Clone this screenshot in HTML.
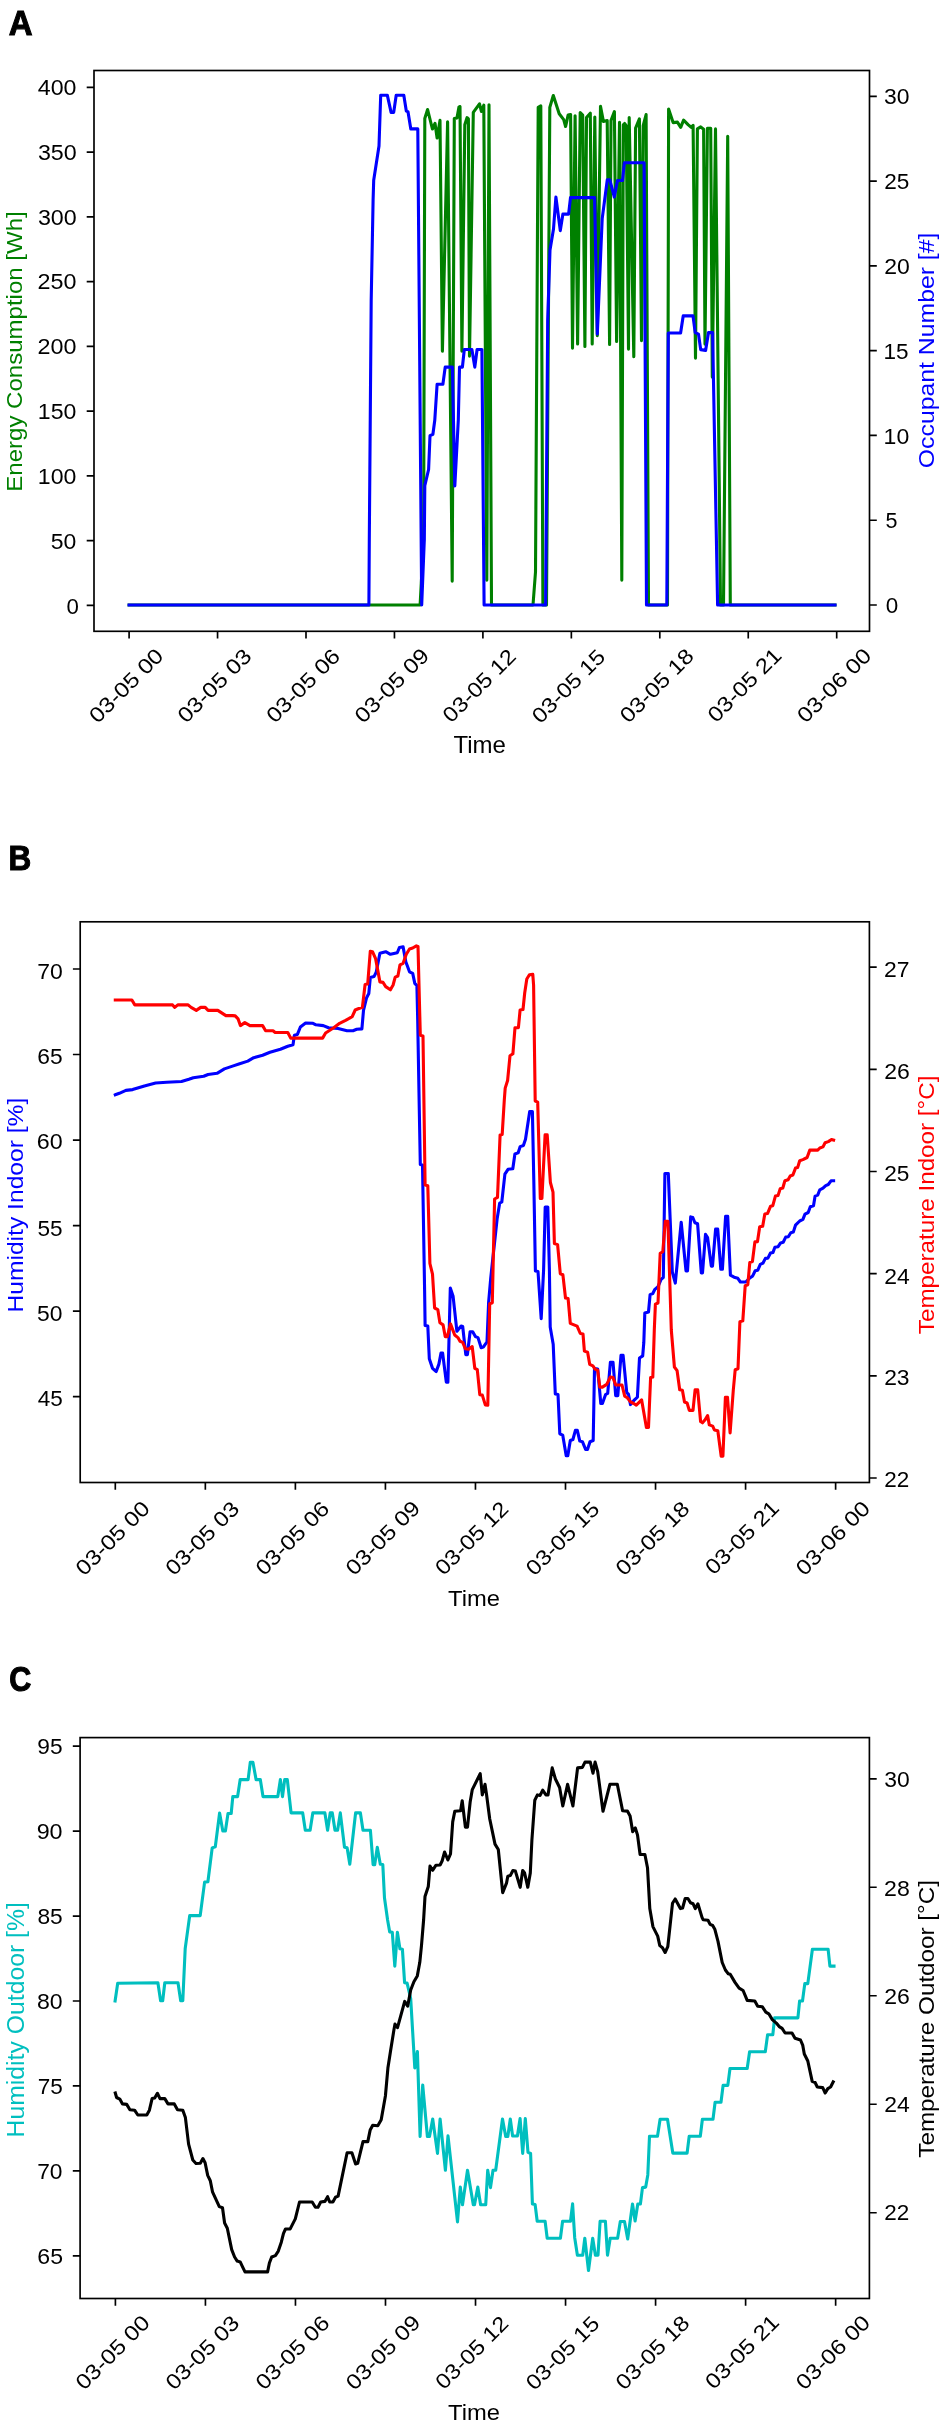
<!DOCTYPE html><html><head><meta charset="utf-8"><title>Energy, occupancy and climate time series</title><style>html,body{margin:0;padding:0;background:#fff;}svg{display:block;will-change:transform}</style></head><body>
<svg width="945" height="2427" viewBox="0 0 945 2427" font-family='"Liberation Sans", sans-serif'>
<rect width="945" height="2427" fill="#fff"/>
<clipPath id="clipA"><rect x="94" y="70.5" width="775.5" height="560.8"/></clipPath>
<path d="M129.1 605 L420.1 605 L423.6 540 L424.8 118.5 L427.6 109.5 L432.4 129 L435 123.3 L437.1 138 L440 120.4 L442.4 351.1 L447.6 121.9 L452.2 581.1 L454.3 118.5 L457 117.9 L459 106.9 L460 106.6 L461.9 351.1 L464.8 124.7 L467.1 117.6 L468.4 118.9 L469.5 356.1 L473.3 112.3 L479.5 103.8 L481.4 111.4 L483.8 105.2 L486.8 580.1 L489 104.7 L491.5 605 L533 605 L535.5 572 L538.2 107.4 L540.8 105.9 L542.9 605 L546.5 605 L549.8 107.4 L553.3 95.5 L559.2 113.8 L563.7 119.6 L565.6 126.5 L568.1 115.1 L570.6 114.5 L572.5 348.1 L575.1 115.7 L577.6 343.9 L580.2 112.6 L582.7 115.1 L584.9 346.4 L586.5 117.6 L590.3 113.2 L592.2 343.9 L594.8 117 L597.3 335.6 L600.5 106.2 L603.4 121.4 L607.2 120.5 L609.6 344.4 L611 120.5 L614.4 111.6 L616.6 341.5 L619.5 122.2 L621.8 580.1 L623.3 124.8 L624.6 123.5 L626.2 125.6 L628.5 349.1 L629.2 117.6 L633.8 356.6 L635.6 128.2 L639.4 118.9 L641.5 340.6 L643.2 125.6 L646.1 114.6 L648.5 605 L667.5 605 L668.6 109.1 L673.1 122.6 L677.4 122.1 L680.7 127.3 L683.6 120.2 L688.3 124.9 L691.2 127.3 L693.1 125.4 L695.5 358.1 L697.4 128.8 L700.7 126.9 L703.6 129.2 L705 344.1 L707.4 128.3 L710.7 128.3 L712.3 377.1 L715.5 128.9 L720.5 605 L723.5 605 L727.7 136.3 L730.3 605 L835 605" fill="none" stroke="#008000" stroke-width="3.1" stroke-linejoin="round" stroke-linecap="square" clip-path="url(#clipA)"/>
<path d="M129.1 605 L368.9 605 L369.3 540 L371.2 300 L373.1 200 L373.7 180.3 L379 146 L380.7 95.2 L387.3 95.2 L391.1 112.4 L393.7 112.4 L396.2 95.2 L403.8 95.2 L406.3 111.1 L408 111.7 L410.8 128.9 L417.8 128.9 L421.7 605 L424.3 540 L424.8 485.7 L428.6 469.5 L430 435.7 L432.9 434.3 L434.8 420 L437.1 384.3 L442.9 384.3 L445.2 367.1 L452.4 367.1 L454.8 486 L458.3 420 L459.5 367.1 L462.4 367.1 L464.3 349.5 L471.9 349.5 L474.8 367.1 L477.1 349.5 L481.9 349.5 L484.1 605 L545.6 605 L547.7 320 L550 250 L553.5 229 L555.9 197 L560.3 230.6 L562.9 214.1 L568.6 214.1 L570.5 197.6 L594.6 197.6 L597.3 334 L602.2 218.6 L607.3 179.8 L609.8 179.8 L614.3 197 L617.5 180.5 L622.5 180.5 L624.4 162.7 L644.1 162.7 L646.5 605 L666.8 605 L668.3 333 L680.6 333 L683.2 315.9 L693 315.9 L695.2 332.6 L698.5 334.1 L700.7 349.6 L705.6 350.4 L708.5 332.6 L712.6 332.6 L717.6 605 L835 605" fill="none" stroke="#0000ff" stroke-width="3.1" stroke-linejoin="round" stroke-linecap="square" clip-path="url(#clipA)"/>
<rect x="94" y="70.5" width="775.5" height="560.8" fill="none" stroke="#000" stroke-width="1.67" stroke-linejoin="miter"/>
<path d="M129.1 631.3V638.6M217.55 631.3V638.6M306 631.3V638.6M394.45 631.3V638.6M482.9 631.3V638.6M571.35 631.3V638.6M659.8 631.3V638.6M748.25 631.3V638.6M836.7 631.3V638.6M86.7 605.4H94M86.7 540.64H94M86.7 475.88H94M86.7 411.11H94M86.7 346.35H94M86.7 281.59H94M86.7 216.82H94M86.7 152.06H94M86.7 87.3H94M869.5 605H876.8M869.5 520.22H876.8M869.5 435.43H876.8M869.5 350.64H876.8M869.5 265.86H876.8M869.5 181.07H876.8M869.5 96.29H876.8" stroke="#000" stroke-width="1.67" fill="none"/>
<clipPath id="clipB"><rect x="80.2" y="921.8" width="789.2" height="560.7"/></clipPath>
<path d="M115.3 1094.8 L119.3 1093.3 L125.9 1090.4 L132.6 1089.6 L144.4 1085.9 L155.6 1083 L166.7 1082.2 L181.5 1081.5 L188.9 1079.3 L193.3 1077.8 L203.7 1076.3 L208.1 1074.5 L217 1073.3 L224.4 1068.9 L233.3 1065.9 L238.9 1064.1 L247.8 1061.1 L253.7 1057.7 L262.6 1055.2 L270 1052.2 L280.4 1049.3 L287.8 1046.3 L293 1044.8 L294.4 1035.2 L297.4 1034.4 L300.4 1027 L305.6 1023 L313 1023.3 L315.9 1024.8 L323.3 1025.6 L328.5 1027.8 L338.1 1028.5 L347 1030.7 L353 1030.7 L356.7 1029.3 L361.9 1028.9 L363.5 1010.4 L366.6 997.7 L368.8 993.5 L370.3 977.6 L374 976.6 L376.2 972.3 L379.9 953.3 L385.7 951.7 L390.4 954.3 L397.3 952.8 L399.4 947.5 L403.1 946.9 L405.8 961.7 L409.5 971.8 L412.7 973.4 L414.8 983.4 L416.9 985.6 L417.7 1020 L419.3 1110 L420.3 1164.5 L422.5 1165 L424.6 1290 L425.1 1325.4 L427.8 1326 L429.3 1358.8 L432.5 1368.3 L436.2 1371.5 L438.9 1364.1 L441 1353 L442.6 1353 L446.3 1382.1 L447.9 1382.1 L450.3 1288 L453.1 1296.3 L456.9 1331.3 L461.1 1326 L462.7 1326.5 L465.8 1354.6 L467.4 1354.6 L470.1 1331.8 L472.7 1331.8 L475.4 1336.6 L478 1337.6 L481.2 1347.7 L483.3 1347.1 L487 1341.9 L488.6 1302.7 L490.7 1278.3 L497.1 1219 L499.7 1203.1 L501.8 1202 L504.9 1174.1 L508 1169.3 L512.8 1168.8 L514.9 1154 L518.1 1152.9 L520.2 1146.6 L523.4 1145.5 L525.5 1139.2 L529.7 1111.6 L532.4 1111.6 L533.8 1180 L535.4 1271 L538 1271.5 L541.2 1318.7 L543.6 1270 L545.2 1207 L547.8 1207 L549.4 1270 L550.2 1327.1 L552.8 1342 L553.2 1344.2 L555.3 1394 L558 1394.5 L559.8 1433.8 L562.7 1435.1 L566.2 1455.7 L567.8 1455.7 L570.3 1440.5 L572.9 1439.5 L575.4 1430.3 L577.3 1430.3 L579.8 1441.1 L582.4 1441.7 L585.6 1449.4 L587.5 1449.4 L590 1441.7 L593.2 1440.5 L594.5 1368.6 L597.7 1369.1 L600.8 1403.5 L602.4 1403.5 L605.6 1394.5 L607.7 1393.4 L610.4 1362.2 L613 1362.2 L615.7 1395.6 L617.8 1395.6 L621 1355.3 L623.1 1355.3 L626.8 1392.9 L628.4 1394 L630.5 1404.6 L634.5 1399.8 L637.4 1397.2 L639.5 1358 L642.7 1355.9 L643.8 1342.7 L644.8 1313.1 L648.5 1312 L650.1 1294.6 L652.8 1293.5 L654.9 1289.3 L658 1286.6 L661.2 1279.2 L663.3 1277.6 L664.9 1173.5 L668.3 1173.5 L672.3 1272 L675.3 1283.1 L681.2 1222.2 L686 1270.9 L687.5 1270.9 L690.7 1216.9 L692.8 1217.5 L694.9 1222.8 L697.6 1223.8 L701.3 1273 L702.5 1273 L705.5 1234.4 L707.6 1237.6 L711.3 1266.1 L712.5 1266.1 L715.6 1229.1 L717.7 1229.1 L720.8 1269.3 L722.4 1269.3 L725.6 1216.4 L727.7 1216.4 L730.4 1275.1 L734.1 1277.2 L737.8 1278.3 L740.4 1282 L745.7 1282 L749.4 1278.3 L752.7 1275.9 L755.2 1270.8 L757.8 1270.2 L760.3 1264.4 L762.9 1263.2 L765.4 1258.4 L767.9 1258.1 L770.5 1253 L773 1252.4 L774.9 1247.3 L778.1 1246.7 L780.6 1242.9 L783.2 1242.2 L785.7 1237.1 L788.3 1236.8 L790.8 1232.7 L793.3 1232.1 L795.5 1225.2 L799.7 1221 L802.9 1219.4 L805 1214.1 L808.2 1212.5 L810.3 1206.7 L813.5 1205.7 L815.1 1196.1 L817.7 1195.1 L819.8 1189.8 L823 1188.2 L825.7 1185.6 L828.3 1184.5 L831 1180.8 L833.6 1180.8" fill="none" stroke="#0000ff" stroke-width="3.1" stroke-linejoin="round" stroke-linecap="square" clip-path="url(#clipB)"/>
<path d="M115.3 1000 L131.9 1000 L134.8 1004.9 L172.6 1004.9 L174.8 1007.4 L177.8 1004.9 L188.1 1004.9 L191.1 1007.4 L196.3 1010.4 L200.7 1007.4 L205.2 1007.4 L208.1 1010.4 L217.8 1010.4 L225.9 1015.6 L232.6 1015.6 L235.2 1015.9 L238.1 1018.9 L240.4 1025.6 L244.8 1022.6 L250 1025.6 L262.6 1025.6 L265.6 1030.7 L273 1030.7 L275.2 1032.5 L287.8 1032.5 L290.7 1038.1 L322.6 1038.1 L325.6 1033 L333.7 1027.8 L339.6 1023.3 L345.6 1020.4 L352.2 1016.7 L355.2 1010 L358.2 1008.8 L362.4 1007.2 L365.1 984.5 L367.7 984 L370.3 951.2 L372.5 951.7 L375.6 958.6 L379.9 981.9 L383 982.4 L385.7 986.6 L390.4 989.8 L393.1 985 L395.2 977.1 L397.9 976 L400 964.9 L403.1 963.3 L406.3 954.3 L409.5 949 L412.7 948 L416.4 945.9 L418 946.4 L420.3 1035.3 L423 1035.9 L425.1 1185.1 L427.8 1185.7 L429.9 1263.5 L432.5 1274.1 L434.6 1308 L437.8 1309.6 L439.9 1322.8 L443.1 1324.9 L445.2 1336.6 L447.3 1336.6 L450.5 1323.9 L454.7 1335 L457.9 1337.6 L460 1341.3 L462.7 1342.4 L465.3 1348.7 L468.5 1349.3 L472.2 1346.6 L474.8 1368.3 L477.3 1369.7 L479.8 1394.7 L482.3 1395.1 L485.3 1404.9 L487.8 1405.3 L489.7 1303.8 L492.3 1302.7 L494.6 1199 L497.5 1197.4 L500.1 1134.9 L502.2 1134.4 L504.3 1100 L505.2 1088.1 L507.6 1080.5 L510 1055.7 L512.9 1053.8 L515 1027.7 L518.4 1027.7 L520.1 1010 L523 1009.5 L524.7 993 L526.8 979 L529.4 974.8 L532.8 974.4 L533.6 985.4 L535.2 1101 L537.7 1102.1 L540.3 1198.4 L541.9 1198.4 L545.1 1134.9 L547.2 1134.9 L550.4 1182.5 L553 1192.1 L554.4 1243.5 L557.6 1244.6 L560.3 1273.7 L562.9 1274.8 L565.5 1298 L568.1 1298.6 L570.3 1323.4 L577.1 1326.1 L580.3 1333.5 L583 1334 L584.4 1351.1 L587.6 1352.2 L589.7 1364.3 L592.9 1365.9 L595 1369.1 L597.7 1370.2 L599.8 1387.1 L602.4 1387.1 L606.7 1384.4 L610.4 1377 L613 1377.6 L615.7 1385 L622 1385 L624.7 1396.1 L627.3 1397.7 L630.5 1401.9 L633.7 1403.5 L636.3 1405.1 L641.6 1399.8 L646.4 1427.4 L648.5 1427.4 L650.6 1377.6 L652.8 1377.1 L654.3 1330 L655.4 1304.1 L658 1303 L660.2 1253.3 L662.8 1251.7 L665.3 1221.2 L667.9 1221.2 L671.3 1330 L674.4 1367 L677.1 1370.7 L679.7 1389.8 L682.4 1390.3 L684.5 1402 L687.1 1403 L689.3 1410.4 L693 1410.4 L695.1 1389.8 L697.7 1389.8 L700.6 1421.5 L702.5 1422.8 L705.1 1419.8 L707.6 1415.6 L709.3 1424.9 L712.7 1426.1 L714.4 1430 L717.8 1430.8 L721.2 1456.2 L722.9 1456.2 L725.4 1397.4 L727.5 1397.4 L730.1 1432.9 L733.3 1390 L735.2 1369.7 L738 1368.7 L739.9 1321.7 L742.8 1320.8 L745.2 1285.7 L747.8 1284.7 L749.8 1262.5 L752.4 1261.6 L754.9 1241.9 L757.5 1241.6 L759.7 1226.7 L762.7 1226.3 L764.8 1214.1 L767.5 1213.6 L770.6 1206.2 L772.8 1205.7 L775.4 1196.1 L778 1195.6 L780.2 1188.7 L782.8 1188 L784.9 1180.8 L788.1 1179.7 L790.2 1176 L792.9 1175 L795.5 1168.1 L797.6 1167.6 L799.7 1160.7 L802.9 1159.6 L807.1 1157.5 L809.8 1150.1 L817.7 1150.1 L819.8 1148 L823 1146.9 L825.1 1142.7 L828.3 1141.6 L831.5 1139.5 L833.6 1140.1" fill="none" stroke="#ff0000" stroke-width="3.1" stroke-linejoin="round" stroke-linecap="square" clip-path="url(#clipB)"/>
<rect x="80.2" y="921.8" width="789.2" height="560.7" fill="none" stroke="#000" stroke-width="1.67" stroke-linejoin="miter"/>
<path d="M115.3 1482.5V1489.8M205.34 1482.5V1489.8M295.38 1482.5V1489.8M385.42 1482.5V1489.8M475.46 1482.5V1489.8M565.5 1482.5V1489.8M655.54 1482.5V1489.8M745.58 1482.5V1489.8M835.62 1482.5V1489.8M72.9 1396.6H80.2M72.9 1311.08H80.2M72.9 1225.56H80.2M72.9 1140.04H80.2M72.9 1054.52H80.2M72.9 969H80.2M869.4 1478H876.7M869.4 1375.84H876.7M869.4 1273.68H876.7M869.4 1171.52H876.7M869.4 1069.36H876.7M869.4 967.2H876.7" stroke="#000" stroke-width="1.67" fill="none"/>
<clipPath id="clipC"><rect x="80.1" y="1737.6" width="789.3" height="560.9"/></clipPath>
<path d="M115.1 2001 L117.7 1983.2 L157.9 1982.8 L160.6 2000.7 L162.7 2000.7 L164.8 1982.8 L178 1982.8 L180.7 2000.7 L182.8 2000.7 L185.2 1948.5 L189.7 1915.6 L200.2 1915.6 L204.6 1882.1 L207.9 1881.7 L212.2 1847.9 L215.3 1846.8 L219.6 1813 L222.8 1831 L225.4 1831 L228 1813.5 L231.2 1813.5 L232.8 1796.6 L237.6 1796.6 L240.2 1779.6 L248.1 1779.6 L250.3 1762.2 L252.9 1762.2 L256.1 1779.6 L260.3 1779.6 L263 1796.6 L277.8 1796.6 L280.4 1779.6 L282.5 1796.6 L284.7 1779.6 L287.3 1779.6 L291.1 1812.9 L302.7 1812.9 L305.3 1830.3 L310.1 1830.3 L312.8 1812.9 L324.9 1812.9 L327.6 1830.3 L330.2 1812.9 L332.3 1812.9 L335 1830.3 L337.6 1830.3 L340.3 1812.9 L344.5 1847.2 L347.1 1847.8 L349.8 1864.2 L355.6 1812.9 L360.4 1812.9 L363 1830.3 L370.4 1830.3 L373.1 1864.7 L374.7 1864.7 L377.3 1847.2 L380.3 1864.3 L382.8 1864.5 L384.5 1898 L387.6 1920 L389.7 1931.9 L392.3 1932.3 L394.8 1966.1 L397.4 1932.3 L399.9 1948.8 L402.4 1949.2 L404.6 1982.7 L407.1 1983.1 L410.7 1998.5 L414.8 2068 L417.4 2051.6 L420.1 2136.5 L422.7 2085 L427.4 2136.5 L429.5 2136.5 L432.7 2119 L437.5 2153.4 L440.1 2119 L445.4 2170.3 L448 2135.9 L457.5 2221.9 L460.3 2187 L462.5 2204.8 L467.5 2170.3 L473.3 2204.8 L474.5 2204.8 L477.8 2187 L480.6 2204.8 L485.7 2204.8 L487.7 2170.3 L490.5 2187.6 L493 2170.3 L495.7 2170.3 L502.5 2119 L505.7 2136.5 L507.8 2136.5 L510.3 2119 L512.6 2136 L517.4 2136 L520.1 2118.6 L522.7 2153.5 L525.3 2118.6 L528 2152.4 L530.6 2153.5 L532.4 2203.9 L535.1 2204.4 L537.2 2221.3 L545.1 2221.3 L547.2 2238.3 L560.4 2238.3 L562.6 2221.3 L570.5 2221.3 L572.6 2203.9 L574.7 2237.7 L577.4 2255.2 L582.7 2255.2 L584.8 2238.3 L588.5 2270.5 L592.7 2238.3 L595.4 2255.2 L598 2255.2 L600.1 2221.3 L605.4 2221.3 L607.5 2255.2 L610.2 2238.3 L617.6 2238.3 L620.3 2221.5 L624.5 2221.5 L627.7 2239 L632.5 2204 L635.1 2221 L637.8 2204 L640.4 2204 L642.5 2187.6 L645.7 2187.1 L647.8 2174.9 L649.5 2136.2 L657.5 2136.2 L660.1 2119.3 L667.5 2119.3 L672.8 2153.1 L687.1 2153.1 L689.2 2136.2 L700.3 2136.2 L702.4 2119.3 L713 2119.3 L715.1 2102.3 L721 2102.3 L723.1 2085.4 L727.8 2085.4 L730 2068.5 L747.2 2068.5 L749.6 2051.7 L765.3 2051.7 L767.6 2034.8 L772.8 2034.8 L774.6 2017.9 L797.9 2017.9 L799.6 2001 L802.5 2001 L804.8 1983.6 L807.8 1983.6 L812.4 1949.2 L828.1 1949.2 L829.9 1966.1 L834 1966.1" fill="none" stroke="#00bfbf" stroke-width="3.1" stroke-linejoin="round" stroke-linecap="square" clip-path="url(#clipC)"/>
<path d="M115.3 2093 L116.6 2097.5 L119.8 2099.1 L122.5 2103.9 L126.7 2104.4 L129.9 2109.7 L134.6 2110.2 L137.8 2115 L146.8 2115 L149.4 2110.2 L152.1 2098.6 L154.7 2098 L157.4 2093.3 L160 2098.6 L164.8 2098.6 L168 2103.9 L174.3 2103.9 L177.5 2109.7 L182.8 2110.2 L185.4 2117.6 L188.6 2144.1 L192.8 2160 L196 2163.5 L200.3 2163.2 L202.9 2158.5 L205.1 2162.7 L207.7 2175.4 L210.3 2180.7 L212.5 2191.8 L219.3 2206.6 L222.5 2207.7 L224.6 2223 L227.3 2228.3 L231.7 2249.6 L234.6 2257 L237.2 2261.1 L240.2 2261.9 L242.8 2267.4 L245 2271.9 L267.6 2271.9 L269.4 2263 L271.7 2257 L275.4 2255.6 L278.3 2251.1 L281.3 2242.2 L283.5 2233.3 L285.5 2229 L290.2 2228.9 L295.3 2218.9 L299.5 2202 L312.2 2202 L315.4 2207.2 L318 2207.2 L320.7 2202 L324.9 2201.4 L327.6 2196.7 L329.7 2202 L332.9 2202 L335.5 2197.2 L338.1 2196.1 L347.1 2152.8 L351.9 2152.8 L355.6 2163.9 L357.7 2163.3 L363 2141.6 L367.8 2141.6 L370.2 2129.9 L372.7 2125.3 L377.8 2125.7 L381.2 2119.8 L385.4 2096 L387.9 2068.1 L390.5 2051.2 L393.9 2030 L395 2024 L397.5 2027.7 L404.7 2001.4 L407.7 2006.1 L410.7 1990 L413.9 1981.8 L417.3 1975.9 L419.8 1962.3 L421.5 1945.4 L423.6 1920 L425 1896.6 L428.3 1886.4 L430 1866.1 L432.6 1870.3 L436 1865.2 L440.1 1865 L442.1 1861 L444.6 1852 L447.9 1860 L450.5 1854 L452.7 1821.9 L454.8 1811.3 L460.6 1810.7 L462.2 1800.7 L465.4 1827.1 L467.5 1827.1 L470.2 1801.7 L472.3 1789.6 L480.2 1773.7 L482.3 1794.9 L485 1784.3 L486.6 1794.9 L489.7 1818.7 L495 1844.1 L498.3 1849.5 L502.7 1892.7 L506.5 1883.2 L507.8 1876.2 L510.3 1875.6 L512.9 1870.5 L515.4 1871.1 L520.2 1887.3 L522.7 1870.5 L524.6 1873 L527.8 1887.3 L530.3 1873 L531.9 1840 L534.8 1800.2 L537.4 1794.9 L540.1 1795.4 L542.7 1790.2 L545.9 1794.9 L548 1794.9 L552.2 1767.9 L555.4 1779 L559.6 1787.5 L562.8 1806 L567.6 1784.3 L572.9 1806 L577.6 1767.9 L582.4 1767.4 L585 1762.1 L590.3 1762.1 L593 1773.2 L595.1 1762.1 L597.7 1771.6 L603 1811.3 L609.9 1784.3 L617.3 1784.3 L622.6 1810.7 L627.4 1811.1 L630.1 1815.9 L632.7 1831.7 L635.3 1828 L637.5 1834.9 L640.1 1854.5 L644.9 1854.5 L647.5 1867.7 L648.2 1880 L649.8 1908.6 L652.9 1926.6 L657.7 1936.1 L659.8 1945.6 L662.5 1947.7 L665.1 1952.5 L667.8 1946.7 L672.5 1903.3 L675.2 1899 L680.4 1908.6 L682.6 1908 L685.2 1898.5 L687.9 1898.5 L690.5 1902.8 L693.1 1903.8 L695.3 1908.6 L697.9 1903.8 L702.1 1917.6 L703.2 1919.7 L708 1920.2 L710.1 1924.4 L712.7 1925.5 L714.8 1929.2 L718 1941.4 L722.2 1962.5 L725.4 1970 L728.1 1973.7 L730.2 1974.2 L735 1982.4 L739.1 1988.2 L743.1 1990.5 L747.2 2000.4 L754.8 2001 L757.7 2006.3 L762.4 2006.8 L765.8 2012.1 L768.8 2013.8 L772.3 2019.6 L776.3 2023.1 L779.2 2026.6 L782.1 2028.4 L785.1 2033 L792 2033 L795 2038.3 L800.5 2040 L802.7 2045.1 L804.3 2054 L807.8 2061 L812.2 2081.3 L815.1 2082.5 L817.3 2087 L822.7 2087.6 L825.2 2093 L827.8 2088.6 L830.6 2087 L833.2 2081.9" fill="none" stroke="#000000" stroke-width="3.1" stroke-linejoin="round" stroke-linecap="square" clip-path="url(#clipC)"/>
<rect x="80.1" y="1737.6" width="789.3" height="560.9" fill="none" stroke="#000" stroke-width="1.67" stroke-linejoin="miter"/>
<path d="M115.4 2298.5V2305.8M205.43 2298.5V2305.8M295.46 2298.5V2305.8M385.49 2298.5V2305.8M475.52 2298.5V2305.8M565.55 2298.5V2305.8M655.58 2298.5V2305.8M745.61 2298.5V2305.8M835.64 2298.5V2305.8M72.8 2255.81H80.1M72.8 2170.88H80.1M72.8 2085.94H80.1M72.8 2001.01H80.1M72.8 1916.07H80.1M72.8 1831.13H80.1M72.8 1746.2H80.1M869.4 2212.72H876.7M869.4 2104.24H876.7M869.4 1995.76H876.7M869.4 1887.28H876.7M869.4 1778.8H876.7" stroke="#000" stroke-width="1.67" fill="none"/>
<text transform="translate(8.65 35.33) rotate(0)" font-size="35.58" font-weight="bold" stroke="#000" stroke-width="1.1" stroke-linejoin="miter" fill="#000" textLength="23.80" lengthAdjust="spacingAndGlyphs">A</text>
<text transform="translate(8.55 870.33) rotate(0)" font-size="35.58" font-weight="bold" stroke="#000" stroke-width="1.1" stroke-linejoin="miter" fill="#000" textLength="22.74" lengthAdjust="spacingAndGlyphs">B</text>
<text transform="translate(9.33 1690.63) rotate(0)" font-size="35.34" font-weight="bold" stroke="#000" stroke-width="1.1" stroke-linejoin="miter" fill="#000" textLength="22.06" lengthAdjust="spacingAndGlyphs">C</text>
<text transform="translate(66.61 613.61) rotate(0)" font-size="21.66" fill="#000" textLength="12.37" lengthAdjust="spacingAndGlyphs">0</text>
<text transform="translate(50.81 548.50) rotate(0)" font-size="21.66" fill="#000" textLength="25.56" lengthAdjust="spacingAndGlyphs">50</text>
<text transform="translate(37.79 483.82) rotate(0)" font-size="21.66" fill="#000" textLength="38.54" lengthAdjust="spacingAndGlyphs">100</text>
<text transform="translate(37.79 419.00) rotate(0)" font-size="21.66" fill="#000" textLength="38.54" lengthAdjust="spacingAndGlyphs">150</text>
<text transform="translate(37.48 354.36) rotate(0)" font-size="21.66" fill="#000" textLength="38.92" lengthAdjust="spacingAndGlyphs">200</text>
<text transform="translate(37.48 289.46) rotate(0)" font-size="21.66" fill="#000" textLength="38.92" lengthAdjust="spacingAndGlyphs">250</text>
<text transform="translate(37.89 225.30) rotate(0)" font-size="21.66" fill="#000" textLength="38.82" lengthAdjust="spacingAndGlyphs">300</text>
<text transform="translate(37.89 160.37) rotate(0)" font-size="21.66" fill="#000" textLength="38.82" lengthAdjust="spacingAndGlyphs">350</text>
<text transform="translate(37.74 95.13) rotate(0)" font-size="21.66" fill="#000" textLength="38.69" lengthAdjust="spacingAndGlyphs">400</text>
<text transform="translate(885.77 613.37) rotate(0)" font-size="21.66" fill="#000" textLength="12.48" lengthAdjust="spacingAndGlyphs">0</text>
<text transform="translate(885.54 528.14) rotate(0)" font-size="21.66" fill="#000" textLength="11.98" lengthAdjust="spacingAndGlyphs">5</text>
<text transform="translate(883.61 443.68) rotate(0)" font-size="21.66" fill="#000" textLength="25.62" lengthAdjust="spacingAndGlyphs">10</text>
<text transform="translate(883.59 358.64) rotate(0)" font-size="21.66" fill="#000" textLength="25.06" lengthAdjust="spacingAndGlyphs">15</text>
<text transform="translate(884.17 273.85) rotate(0)" font-size="21.66" fill="#000" textLength="25.57" lengthAdjust="spacingAndGlyphs">20</text>
<text transform="translate(884.16 189.49) rotate(0)" font-size="21.66" fill="#000" textLength="25.12" lengthAdjust="spacingAndGlyphs">25</text>
<text transform="translate(884.12 104.09) rotate(0)" font-size="21.66" fill="#000" textLength="25.50" lengthAdjust="spacingAndGlyphs">30</text>
<text transform="translate(97.80 724.24) rotate(-45)" font-size="21.20" fill="#000" textLength="94.78" lengthAdjust="spacingAndGlyphs">03-05 00</text>
<text transform="translate(186.20 724.11) rotate(-45)" font-size="21.20" fill="#000" textLength="94.18" lengthAdjust="spacingAndGlyphs">03-05 03</text>
<text transform="translate(274.90 724.09) rotate(-45)" font-size="21.20" fill="#000" textLength="94.12" lengthAdjust="spacingAndGlyphs">03-05 06</text>
<text transform="translate(363.27 724.16) rotate(-45)" font-size="21.20" fill="#000" textLength="95.10" lengthAdjust="spacingAndGlyphs">03-05 09</text>
<text transform="translate(451.37 723.64) rotate(-45)" font-size="21.20" fill="#000" textLength="93.20" lengthAdjust="spacingAndGlyphs">03-05 12</text>
<text transform="translate(540.40 724.38) rotate(-45)" font-size="21.20" fill="#000" textLength="93.75" lengthAdjust="spacingAndGlyphs">03-05 15</text>
<text transform="translate(628.58 724.04) rotate(-45)" font-size="21.20" fill="#000" textLength="94.15" lengthAdjust="spacingAndGlyphs">03-05 18</text>
<text transform="translate(716.23 723.40) rotate(-45)" font-size="21.20" fill="#000" textLength="94.27" lengthAdjust="spacingAndGlyphs">03-05 21</text>
<text transform="translate(805.69 724.09) rotate(-45)" font-size="21.20" fill="#000" textLength="94.79" lengthAdjust="spacingAndGlyphs">03-06 00</text>
<text transform="translate(453.39 752.83) rotate(0)" font-size="23.02" fill="#000" textLength="52.48" lengthAdjust="spacingAndGlyphs">Time</text>
<text transform="translate(22.41 491.74) rotate(-90)" font-size="21.99" fill="#008000" textLength="280.48" lengthAdjust="spacingAndGlyphs">Energy Consumption [Wh]</text>
<text transform="translate(933.95 468.18) rotate(-90)" font-size="21.45" fill="#0000ff" textLength="235.61" lengthAdjust="spacingAndGlyphs">Occupant Number [#]</text>
<text transform="translate(37.72 1406.10) rotate(0)" font-size="21.66" fill="#000" textLength="25.06" lengthAdjust="spacingAndGlyphs">45</text>
<text transform="translate(37.08 1320.97) rotate(0)" font-size="21.66" fill="#000" textLength="25.44" lengthAdjust="spacingAndGlyphs">50</text>
<text transform="translate(37.55 1235.51) rotate(0)" font-size="21.66" fill="#000" textLength="25.15" lengthAdjust="spacingAndGlyphs">55</text>
<text transform="translate(36.83 1149.35) rotate(0)" font-size="21.66" fill="#000" textLength="25.88" lengthAdjust="spacingAndGlyphs">60</text>
<text transform="translate(37.32 1064.02) rotate(0)" font-size="21.66" fill="#000" textLength="25.34" lengthAdjust="spacingAndGlyphs">65</text>
<text transform="translate(37.32 978.52) rotate(0)" font-size="21.66" fill="#000" textLength="25.55" lengthAdjust="spacingAndGlyphs">70</text>
<text transform="translate(884.13 1487.37) rotate(0)" font-size="21.66" fill="#000" textLength="25.00" lengthAdjust="spacingAndGlyphs">22</text>
<text transform="translate(884.15 1385.34) rotate(0)" font-size="21.66" fill="#000" textLength="25.42" lengthAdjust="spacingAndGlyphs">23</text>
<text transform="translate(884.17 1283.76) rotate(0)" font-size="21.66" fill="#000" textLength="25.51" lengthAdjust="spacingAndGlyphs">24</text>
<text transform="translate(884.15 1181.44) rotate(0)" font-size="21.66" fill="#000" textLength="25.19" lengthAdjust="spacingAndGlyphs">25</text>
<text transform="translate(884.13 1078.77) rotate(0)" font-size="21.66" fill="#000" textLength="25.60" lengthAdjust="spacingAndGlyphs">26</text>
<text transform="translate(884.03 977.19) rotate(0)" font-size="21.66" fill="#000" textLength="25.51" lengthAdjust="spacingAndGlyphs">27</text>
<text transform="translate(84.24 1576.65) rotate(-45)" font-size="21.20" fill="#000" textLength="94.52" lengthAdjust="spacingAndGlyphs">03-05 00</text>
<text transform="translate(174.10 1576.59) rotate(-45)" font-size="21.20" fill="#000" textLength="93.98" lengthAdjust="spacingAndGlyphs">03-05 03</text>
<text transform="translate(264.13 1576.62) rotate(-45)" font-size="21.20" fill="#000" textLength="94.14" lengthAdjust="spacingAndGlyphs">03-05 06</text>
<text transform="translate(354.35 1576.61) rotate(-45)" font-size="21.20" fill="#000" textLength="95.00" lengthAdjust="spacingAndGlyphs">03-05 09</text>
<text transform="translate(443.82 1576.19) rotate(-45)" font-size="21.20" fill="#000" textLength="93.33" lengthAdjust="spacingAndGlyphs">03-05 12</text>
<text transform="translate(534.60 1576.66) rotate(-45)" font-size="21.20" fill="#000" textLength="93.55" lengthAdjust="spacingAndGlyphs">03-05 15</text>
<text transform="translate(624.36 1576.64) rotate(-45)" font-size="21.20" fill="#000" textLength="94.20" lengthAdjust="spacingAndGlyphs">03-05 18</text>
<text transform="translate(713.80 1575.87) rotate(-45)" font-size="21.20" fill="#000" textLength="94.24" lengthAdjust="spacingAndGlyphs">03-05 21</text>
<text transform="translate(804.57 1576.63) rotate(-45)" font-size="21.20" fill="#000" textLength="94.56" lengthAdjust="spacingAndGlyphs">03-06 00</text>
<text transform="translate(448.10 1605.71) rotate(0)" font-size="21.22" fill="#000" textLength="51.89" lengthAdjust="spacingAndGlyphs">Time</text>
<text transform="translate(22.69 1312.55) rotate(-90)" font-size="22.29" fill="#0000ff" textLength="214.90" lengthAdjust="spacingAndGlyphs">Humidity Indoor [%]</text>
<text transform="translate(933.51 1334.18) rotate(-90)" font-size="21.45" fill="#ff0000" textLength="258.62" lengthAdjust="spacingAndGlyphs">Temperature Indoor [°C]</text>
<text transform="translate(37.33 2263.62) rotate(0)" font-size="21.66" fill="#000" textLength="25.65" lengthAdjust="spacingAndGlyphs">65</text>
<text transform="translate(37.16 2178.92) rotate(0)" font-size="21.66" fill="#000" textLength="25.33" lengthAdjust="spacingAndGlyphs">70</text>
<text transform="translate(37.68 2093.74) rotate(0)" font-size="21.66" fill="#000" textLength="25.09" lengthAdjust="spacingAndGlyphs">75</text>
<text transform="translate(36.91 2008.75) rotate(0)" font-size="21.66" fill="#000" textLength="25.67" lengthAdjust="spacingAndGlyphs">80</text>
<text transform="translate(37.44 1923.83) rotate(0)" font-size="21.66" fill="#000" textLength="25.34" lengthAdjust="spacingAndGlyphs">85</text>
<text transform="translate(36.65 1839.17) rotate(0)" font-size="21.66" fill="#000" textLength="25.95" lengthAdjust="spacingAndGlyphs">90</text>
<text transform="translate(37.36 1754.13) rotate(0)" font-size="21.66" fill="#000" textLength="25.26" lengthAdjust="spacingAndGlyphs">95</text>
<text transform="translate(884.13 2220.33) rotate(0)" font-size="21.66" fill="#000" textLength="25.00" lengthAdjust="spacingAndGlyphs">22</text>
<text transform="translate(884.17 2112.41) rotate(0)" font-size="21.66" fill="#000" textLength="25.51" lengthAdjust="spacingAndGlyphs">24</text>
<text transform="translate(884.13 2003.89) rotate(0)" font-size="21.66" fill="#000" textLength="25.60" lengthAdjust="spacingAndGlyphs">26</text>
<text transform="translate(884.11 1895.63) rotate(0)" font-size="21.66" fill="#000" textLength="25.70" lengthAdjust="spacingAndGlyphs">28</text>
<text transform="translate(884.22 1786.58) rotate(0)" font-size="21.66" fill="#000" textLength="25.45" lengthAdjust="spacingAndGlyphs">30</text>
<text transform="translate(84.16 2391.12) rotate(-45)" font-size="21.20" fill="#000" textLength="94.88" lengthAdjust="spacingAndGlyphs">03-05 00</text>
<text transform="translate(174.14 2391.07) rotate(-45)" font-size="21.20" fill="#000" textLength="94.23" lengthAdjust="spacingAndGlyphs">03-05 03</text>
<text transform="translate(264.13 2391.11) rotate(-45)" font-size="21.20" fill="#000" textLength="94.48" lengthAdjust="spacingAndGlyphs">03-05 06</text>
<text transform="translate(354.44 2391.13) rotate(-45)" font-size="21.20" fill="#000" textLength="95.11" lengthAdjust="spacingAndGlyphs">03-05 09</text>
<text transform="translate(444.12 2390.52) rotate(-45)" font-size="21.20" fill="#000" textLength="92.90" lengthAdjust="spacingAndGlyphs">03-05 12</text>
<text transform="translate(534.55 2391.21) rotate(-45)" font-size="21.20" fill="#000" textLength="93.60" lengthAdjust="spacingAndGlyphs">03-05 15</text>
<text transform="translate(624.31 2390.91) rotate(-45)" font-size="21.20" fill="#000" textLength="94.26" lengthAdjust="spacingAndGlyphs">03-05 18</text>
<text transform="translate(713.84 2390.19) rotate(-45)" font-size="21.20" fill="#000" textLength="94.21" lengthAdjust="spacingAndGlyphs">03-05 21</text>
<text transform="translate(804.54 2390.98) rotate(-45)" font-size="21.20" fill="#000" textLength="94.78" lengthAdjust="spacingAndGlyphs">03-06 00</text>
<text transform="translate(448.10 2420.47) rotate(0)" font-size="21.22" fill="#000" textLength="51.89" lengthAdjust="spacingAndGlyphs">Time</text>
<text transform="translate(24.01 2137.43) rotate(-90)" font-size="23.50" fill="#00bfbf" textLength="235.29" lengthAdjust="spacingAndGlyphs">Humidity Outdoor [%]</text>
<text transform="translate(933.73 2157.64) rotate(-90)" font-size="22.18" fill="#000000" textLength="277.61" lengthAdjust="spacingAndGlyphs">Temperature Outdoor [°C]</text>
</svg></body></html>
